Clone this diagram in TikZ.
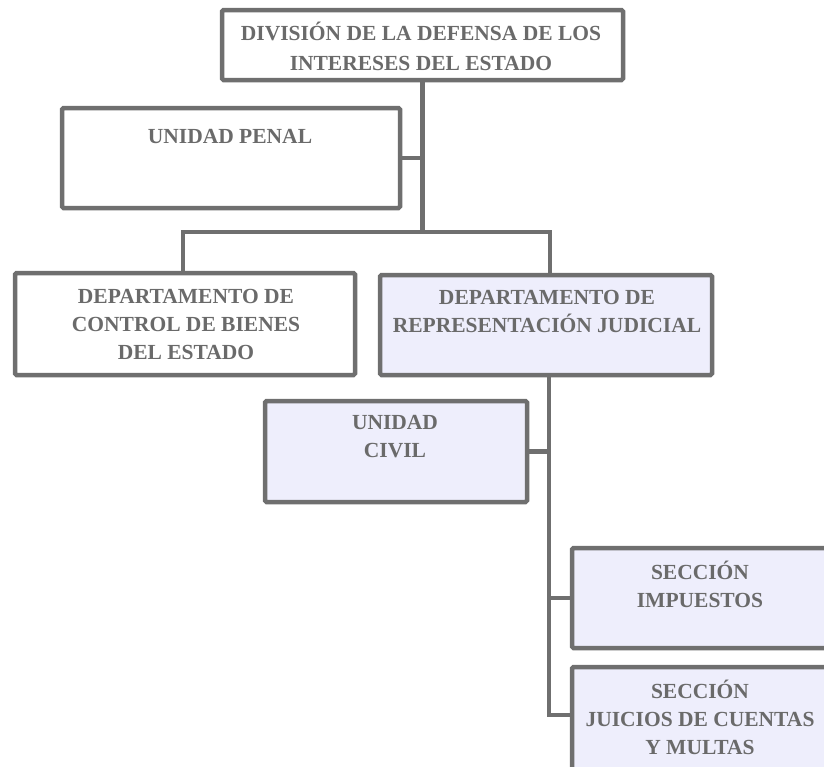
\documentclass[tikz,border=0pt]{standalone}
\usepackage{fontspec}
\setmainfont{Liberation Serif}
\definecolor{edge}{HTML}{6F6F6F}
\definecolor{ink}{HTML}{6A6A6A}
\definecolor{lav}{HTML}{EEEEFC}
\begin{document}
\begin{tikzpicture}[x=1pt,y=-1pt,
  unitbox/.style={draw=edge, line width=4.5pt, rounded corners=1.5pt, fill=white, inner sep=0pt},
  lavbox/.style={unitbox, fill=lav},
  labeltext/.style={text=ink, font=\bfseries\fontsize{21.5}{28}\selectfont, align=center, inner sep=0pt},
  link/.style={draw=edge, line width=4.5pt}]
\useasboundingbox (0,0) rectangle (824,766);

% boxes
\node[unitbox, minimum width=401pt, minimum height=70pt] (div) at (422.5,45) {};
\node[unitbox, minimum width=338pt, minimum height=100pt] (penal) at (231,158) {};
\node[unitbox, minimum width=340pt, minimum height=102pt] (ctrl) at (185,324) {};
\node[lavbox, minimum width=332pt, minimum height=100pt] (repr) at (546,325) {};
\node[lavbox, minimum width=262pt, minimum height=101pt] (civil) at (396,451.5) {};
\node[lavbox, minimum width=256pt, minimum height=100pt] (imp) at (700,598) {};
\node[lavbox, minimum width=256pt, minimum height=108pt] (jui) at (700,721) {};

% labels
\node[labeltext, font=\bfseries\fontsize{21.5}{30}\selectfont] (divT) at (421,46) {DIVISIÓN DE LA DEFENSA DE LOS\\INTERESES DEL ESTADO};
\node[labeltext] (penalT) at (230,136) {UNIDAD PENAL};
\node[labeltext] (ctrlT) at (186,324) {DEPARTAMENTO DE\\CONTROL DE BIENES\\DEL ESTADO};
\node[labeltext] (reprT) at (547,311) {DEPARTAMENTO DE\\REPRESENTACIÓN JUDICIAL};
\node[labeltext] (civilT) at (395,437) {UNIDAD\\CIVIL};
\node[labeltext] (impT) at (700,584) {SECCIÓN\\IMPUESTOS};
\node[labeltext] (juiT) at (700,717) {SECCIÓN\\JUICIOS DE CUENTAS\\Y MULTAS};

% connector routing points
\coordinate (barL) at (183,232);
\coordinate (barR) at (550,232);
\coordinate (spine) at (549,0);
\coordinate (jt) at (549,715);

% connectors
\draw[link] (div.south) -- (div.south |- barL);
\draw[link] (penal.east) -- (penal.east -| div.south);
\draw[link] (ctrl.north -| barL) -- (barL) -- (barR) -- (repr.north -| barR);
\draw[link] (repr.south -| spine) -- (jt) -- (jt -| jui.west);
\draw[link] (civil.east) -- (civil.east -| spine);
\draw[link] (imp.west -| spine) -- (imp.west);
\end{tikzpicture}
\end{document}
